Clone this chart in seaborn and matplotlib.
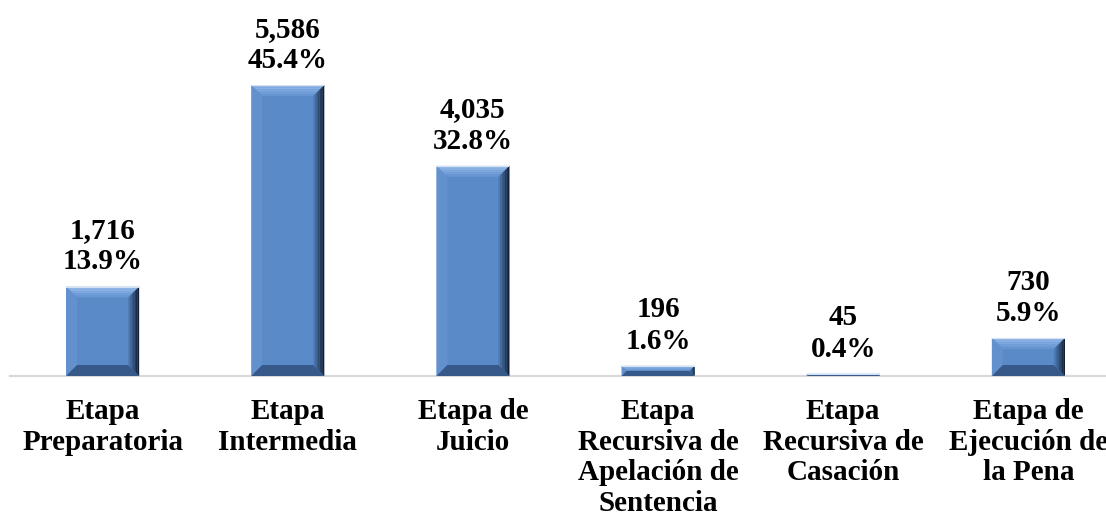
import numpy as np
import pandas as pd
import matplotlib
matplotlib.use("Agg")
import matplotlib.pyplot as plt
import seaborn as sns
from matplotlib.patches import Polygon

categories = [
    "Etapa\nPreparatoria",
    "Etapa\nIntermedia",
    "Etapa de\nJuicio",
    "Etapa\nRecursiva de\nApelación de\nSentencia",
    "Etapa\nRecursiva de\nCasación",
    "Etapa de\nEjecución de\nla Pena",
]
values = [1716, 5586, 4035, 196, 45, 730]
percents = ["13.9%", "45.4%", "32.8%", "1.6%", "0.4%", "5.9%"]

FACE = "#5A8AC7"


# -------------------------
# Bevel look for the bars
# -------------------------
def bevel_bars(fig, ax):

    fig.canvas.draw()
    inv = ax.transData.inverted()

    for patch in ax.patches[:]:
        (x0, y0), (x1, y1) = patch.get_window_extent().get_points()
        w, h = x1 - x0, y1 - y0
        b = min(11.0, h / 2, w / 2)
        if h <= 0:
            continue

        def add(pts, color):
            poly = Polygon(inv.transform(pts), closed=True, facecolor=color,
                           edgecolor="none", zorder=3)
            ax.add_patch(poly)

        # inner face
        add([(x0 + b, y0 + b), (x1 - b, y0 + b), (x1 - b, y1 - b), (x0 + b, y1 - b)], FACE)
        # top, lighter toward the edge
        tops = ["#6795D0", "#729FD9", "#7DA8DF", "#88B0E3", "#93B8E7"]
        n = len(tops)
        for i, c in enumerate(tops):
            t0, t1 = i / n, (i + 1) / n
            ya, yb = y1 - b + b * t0, y1 - b + b * t1
            add([(x0 + b - b * t0, ya), (x1 - b + b * t0, ya),
                 (x1 - b + b * t1, yb), (x0 + b - b * t1, yb)], c)
        # left
        add([(x0, y0), (x0 + b, y0 + b), (x0 + b, y1 - b), (x0, y1)], "#6391CE")
        # bottom
        add([(x0, y0), (x1, y0), (x1 - b, y0 + b), (x0 + b, y0 + b)], "#36598A")
        # right, darkening toward the edge
        shades = ["#4E7AB4", "#44699C", "#3A5A86", "#304B70", "#263C5A", "#1C2D44", "#14203A"]
        n = len(shades)
        for i, c in enumerate(shades):
            t0, t1 = i / n, (i + 1) / n
            xa, xb = x1 - b + b * t0, x1 - b + b * t1
            add([(xa, y0 + b - b * t0), (xb, y0 + b - b * t1),
                 (xb, y1 - b + b * t1), (xa, y1 - b + b * t0)], c)
        # thin light rim on top
        add([(x0, y1), (x1, y1), (x1, y1 - 1), (x0, y1 - 1)], "#D6E2F2")


# -------------------------
# MAIN
# -------------------------
def main():

    sns.set_theme(style="white")
    plt.rcParams["font.family"] = ["Liberation Serif", "DejaVu Serif"]

    df = pd.DataFrame({"cat": categories, "val": values})

    fig = plt.figure(figsize=(11.06, 5.22), dpi=100)
    ax = fig.add_axes([10 / 1106, 146 / 522, 1111 / 1106, 376 / 522])

    sns.barplot(data=df, x="cat", y="val", color=FACE, width=0.395,
                saturation=1, ax=ax, zorder=2)

    ax.set_xlim(-0.5, 5.5)
    ax.set_ylim(0, 7218)

    for side in ["top", "right", "left"]:
        ax.spines[side].set_visible(False)
    ax.spines["bottom"].set_color("#D9D9D9")
    ax.spines["bottom"].set_linewidth(1.6)
    ax.set_yticks([])
    ax.set_xlabel("")
    ax.set_ylabel("")
    ax.tick_params(axis="x", length=0, pad=16)
    ax.set_xticks(range(len(categories)))
    ax.set_xticklabels(categories, fontsize=21, fontweight="bold",
                       color="black", linespacing=1.17)

    for i, (v, p) in enumerate(zip(values, percents)):
        ax.annotate(f"{v:,}\n{p}", xy=(i, v), xytext=(0, 8),
                    textcoords="offset points", ha="center", va="bottom",
                    fontsize=21, fontweight="bold", color="black",
                    linespacing=1.2, annotation_clip=False)

    bevel_bars(fig, ax)

    fig.savefig("out.png", dpi=100)


if __name__ == "__main__":
    main()
